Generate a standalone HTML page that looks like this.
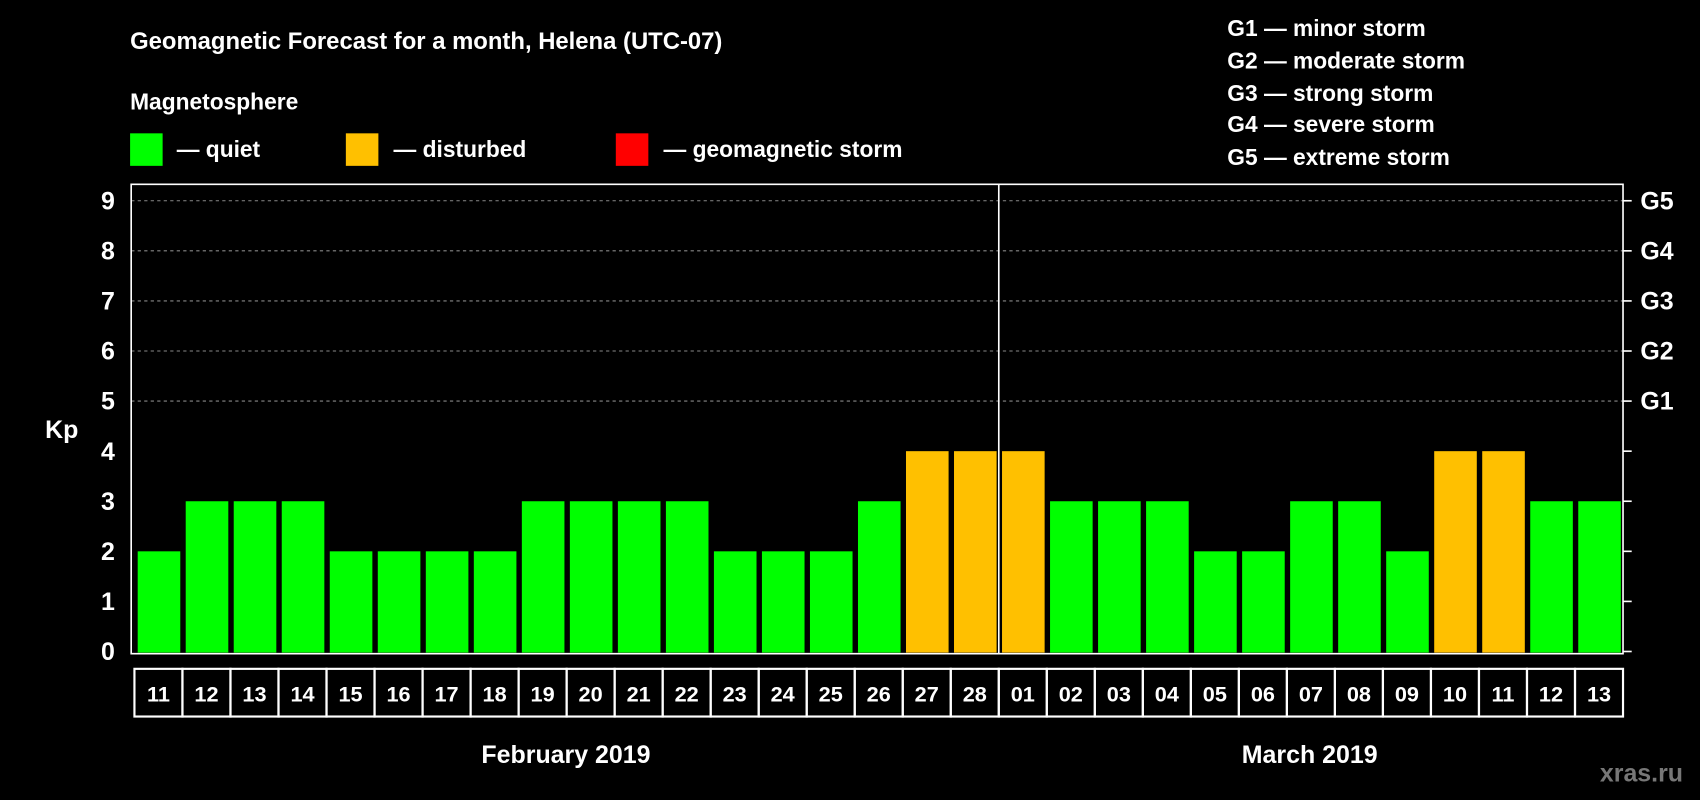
<!DOCTYPE html>
<html><head><meta charset="utf-8"><style>
html,body{margin:0;padding:0;background:#000;width:1700px;height:800px;overflow:hidden}
svg{display:block}
text{font-family:"Liberation Sans",Arial,sans-serif;font-weight:bold;fill:#fff}
</style></head><body>
<svg id="chart" width="1700" height="800" viewBox="0 0 1568 738" preserveAspectRatio="none" xmlns="http://www.w3.org/2000/svg">
<rect width="1568" height="738" fill="#000"/>
<text x="120" y="45" font-size="22">Geomagnetic Forecast for a month, Helena (UTC-07)</text>
<text x="120" y="101" font-size="21">Magnetosphere</text>
<rect x="120" y="123" width="30" height="30" fill="#00ff00"/>
<text x="163" y="145" font-size="21">— quiet</text>
<rect x="319" y="123" width="30" height="30" fill="#ffc000"/>
<text x="363" y="145" font-size="21">— disturbed</text>
<rect x="568" y="123" width="30" height="30" fill="#ff0000"/>
<text x="612" y="145" font-size="21">— geomagnetic storm</text>
<g font-size="21">
<text x="1132" y="33">G1 — minor storm</text>
<text x="1132" y="63">G2 — moderate storm</text>
<text x="1132" y="93">G3 — strong storm</text>
<text x="1132" y="122">G4 — severe storm</text>
<text x="1132" y="152">G5 — extreme storm</text>
</g>
<text x="57" y="404" font-size="23" text-anchor="middle">Kp</text>
<g id="plot"></g>
<text x="522" y="704" font-size="23" text-anchor="middle">February 2019</text>
<text x="1208" y="704" font-size="23" text-anchor="middle">March 2019</text>
<text x="1514" y="721" font-size="23" text-anchor="middle" style="fill:#777">xras.ru</text>
</svg>
<script>
const days = ["11","12","13","14","15","16","17","18","19","20","21","22","23","24","25","26","27","28","01","02","03","04","05","06","07","08","09","10","11","12","13"];
const kpValues = [2,3,3,3,2,2,2,2,3,3,3,3,2,2,2,3,4,4,4,3,3,3,2,2,3,3,2,4,4,3,3];
const yTicks = [0,1,2,3,4,5,6,7,8,9];
const gLabels = ["G1","G2","G3","G4","G5"];
const monthBreak = 18;

const NS = "http://www.w3.org/2000/svg";
const plot = document.getElementById("plot");
const X0 = 124, X1 = 1497, L = 121, TOP = 170, BOT = 603;
const cw = (X1 - X0) / days.length;
const y = v => 601 - 46.2 * v;
const x = i => X0 + i * cw;
function mk(tag, attrs) { const e = document.createElementNS(NS, tag); for (const k in attrs) e.setAttribute(k, attrs[k]); plot.appendChild(e); return e; }
const color = v => v >= 5 ? "#ff0000" : (v >= 4 ? "#ffc000" : "#00ff00");

yTicks.forEach(t => {
  if (t >= 5) {
    const g = mk("line", {x1: L, x2: X1, y1: y(t), y2: y(t), stroke: "#888", "stroke-dasharray": "3,3", "stroke-width": 1});
    
    
  }
  const lt = mk("text", {x: 106, y: y(t) + 8, "font-size": 23, "text-anchor": "end"});
  lt.textContent = t;
  
  
  const rt = mk("line", {x1: X1, x2: X1 + 8, y1: y(t), y2: y(t), stroke: "#fff", "stroke-width": 1.5});
  
  
  if (t >= 5) {
    const gl = mk("text", {x: 1513, y: y(t) + 8, "font-size": 23});
    gl.textContent = gLabels[t - 5];
    
    
  }
});

kpValues.forEach((v, i) => {
  const b = mk("rect", {x: x(i) + 3, y: y(v), width: cw - 5, height: 602 - y(v), fill: color(v)});
  
  
  const c = mk("rect", {x: x(i), y: 617, width: cw, height: 44, fill: "none", stroke: "#fff", "stroke-width": 2});
  
  
  const t = mk("text", {x: x(i) + cw / 2, y: 647, "font-size": 20, "text-anchor": "middle"});
  t.textContent = days[i];
  
  
});

const fr = mk("path", {d: `M${L},${TOP} H${X1} V${BOT} H${L} Z`, fill: "none", stroke: "#fff", "stroke-width": 1.5});


const ml = mk("line", {x1: x(monthBreak), x2: x(monthBreak), y1: TOP, y2: BOT, stroke: "#fff", "stroke-width": 1.5});


</script>
</body></html>
